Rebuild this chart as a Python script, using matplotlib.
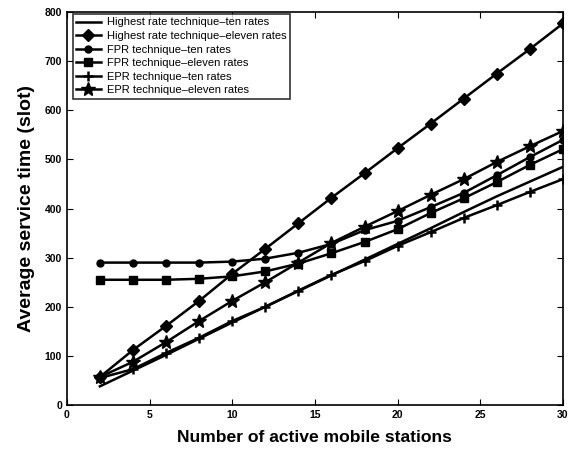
import matplotlib
matplotlib.use("Agg")
import matplotlib.pyplot as plt

stations = [2, 4, 6, 8, 10, 12, 14, 16, 18, 20, 22, 24, 26, 28, 30]
highest_ten = [38, 70, 102, 135, 168, 200, 232, 264, 296, 328, 360, 393, 425, 455, 485]
highest_eleven = [57, 112, 161, 212, 267, 318, 370, 422, 472, 523, 573, 624, 675, 725, 777]
fpr_ten = [290, 290, 290, 290, 292, 298, 310, 328, 356, 375, 403, 432, 468, 505, 540]
fpr_eleven = [255, 255, 255, 257, 262, 272, 288, 309, 332, 358, 391, 421, 454, 489, 521]
epr_ten = [55, 73, 106, 137, 171, 200, 233, 265, 293, 324, 352, 381, 407, 434, 460]
epr_eleven = [57, 88, 128, 171, 212, 250, 290, 330, 363, 395, 428, 460, 495, 527, 558]

labels = ["Highest rate technique\u2013ten rates",
          "Highest rate technique\u2013eleven rates",
          "FPR technique\u2013ten rates",
          "FPR technique\u2013eleven rates",
          "EPR technique\u2013ten rates",
          "EPR technique\u2013eleven rates"]

plt.rcParams['font.family'] = ['Liberation Sans', 'DejaVu Sans']

fig = plt.figure(figsize=(5.71, 4.5), dpi=100)
ax = fig.add_axes([0.117, 0.1, 0.869, 0.873])

lw = 1.8
ax.plot(stations, highest_ten, color='black', lw=lw, label=labels[0])
ax.plot(stations, highest_eleven, color='black', lw=lw, marker='D', ms=6.5, label=labels[1])
ax.plot(stations, fpr_ten, color='black', lw=lw, marker='o', ms=5, label=labels[2])
ax.plot(stations, fpr_eleven, color='black', lw=lw, marker='s', ms=5.5, label=labels[3])
ax.plot(stations, epr_ten, color='black', lw=lw, marker='+', ms=7, mew=1.8, label=labels[4])
ax.plot(stations, epr_eleven, color='black', lw=lw, marker='*', ms=10.5, label=labels[5])

ax.set_xlim(0, 30)
ax.set_ylim(0, 800)
ax.set_xticks(range(0, 31, 5))
ax.set_yticks(range(0, 801, 100))
ax.tick_params(direction='in', top=True, right=True, labelsize=7.5, length=4)
for t in ax.get_xticklabels() + ax.get_yticklabels():
    t.set_fontweight('bold')
for s in ax.spines.values():
    s.set_linewidth(1.2)

ax.set_xlabel("Number of active mobile stations", fontsize=12.6, fontweight='bold', labelpad=7)
ax.set_ylabel("Average service time (slot)", fontsize=14, fontweight='bold', labelpad=7)

leg = ax.legend(loc='upper left', fontsize=8, frameon=True, fancybox=False,
                edgecolor='black', bbox_to_anchor=(0.012, 0.995), borderaxespad=0,
                handlelength=2.2, labelspacing=0.32, borderpad=0.3, handletextpad=0.6)
leg.get_frame().set_linewidth(1.2)

fig.savefig("out.png", dpi=100)
